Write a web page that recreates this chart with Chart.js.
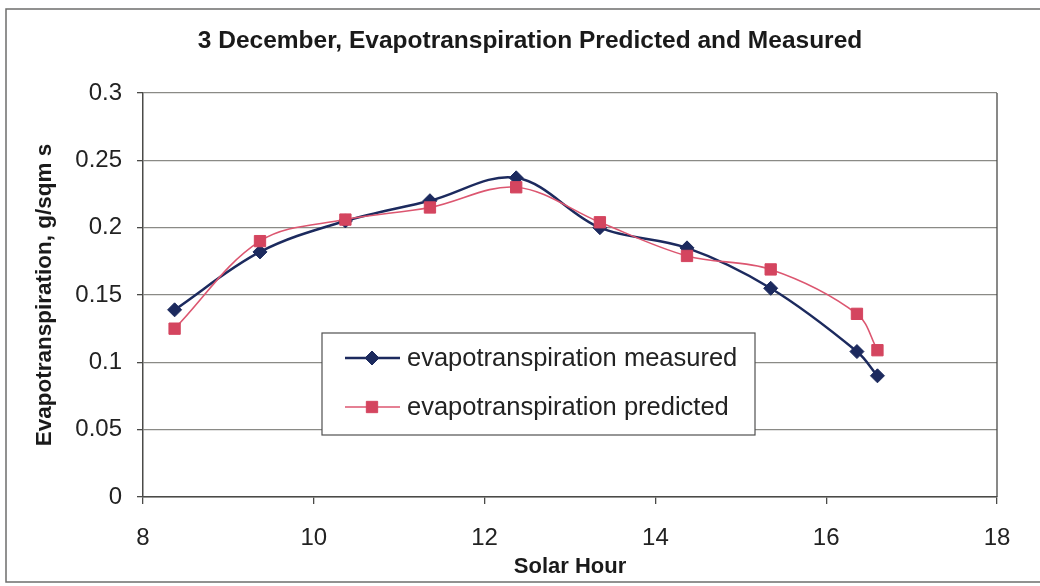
<!DOCTYPE html>
<html>
<head>
<meta charset="utf-8">
<script src="https://cdn.jsdelivr.net/npm/chart.js@4.4.1/dist/chart.umd.min.js"></script>
<style>
  html, body { margin: 0; padding: 0; background: #ffffff; }
  #wrap { width: 1040px; height: 586px; }
</style>
</head>
<body>
<div id="wrap"><canvas id="c" width="1040" height="586"></canvas></div>
<script>
// Solar hour of each reading and the two evapotranspiration series (g/sqm s)
const solarHour   = [8.37, 9.37, 10.37, 11.36, 12.37, 13.35, 14.37, 15.35, 16.36, 16.6];
const etMeasured  = [0.139, 0.182, 0.205, 0.220, 0.237, 0.200, 0.185, 0.155, 0.108, 0.090];
const etPredicted = [0.125, 0.190, 0.206, 0.215, 0.230, 0.204, 0.179, 0.169, 0.136, 0.109];

const seriesNames = ['evapotranspiration measured', 'evapotranspiration predicted'];

// Axis ticks and their labels
const xTickValues = [8, 10, 12, 14, 16, 18];
const xTickLabels = ['8', '10', '12', '14', '16', '18'];
const yTickValues = [0, 0.05, 0.1, 0.15, 0.2, 0.25, 0.3];
const yTickLabels = ['0', '0.05', '0.1', '0.15', '0.2', '0.25', '0.3'];

const chartTitle = '3 December, Evapotranspiration Predicted and Measured';
const xTitle = 'Solar Hour';
const yTitle = 'Evapotranspiration, g/sqm s';

const FONT = '"Liberation Sans", Arial, sans-serif';
const NAVY = '#1c2a5e';
const PINK_LINE = '#dc5670';
const PINK_MARK = '#d4455f';
const GRID = '#8a8a86';
const AXIS = '#4a4a48';

const toPoints = (xs, ys) => xs.map((x, i) => ({ x: x, y: ys[i] }));

// Outer frame, heading, plot-area right edge and the boxed legend
const decorPlugin = {
  id: 'decor',
  beforeDraw(chart) {
    const ctx = chart.ctx;
    ctx.save();
    ctx.fillStyle = '#ffffff';
    ctx.fillRect(0, 0, chart.width, chart.height);
    ctx.strokeStyle = '#6e6e6c';
    ctx.lineWidth = 1.5;
    ctx.beginPath();
    ctx.moveTo(1045, 9);
    ctx.lineTo(6, 9);
    ctx.lineTo(6, 582);
    ctx.lineTo(1045, 582);
    ctx.stroke();

    ctx.fillStyle = '#1a1a1a';
    ctx.font = 'bold 24.5px ' + FONT;
    ctx.textAlign = 'center';
    ctx.textBaseline = 'middle';
    ctx.fillText(chartTitle, 530, 41);
    ctx.restore();
  },
  beforeDatasetsDraw(chart) {
    const { ctx, chartArea: a } = chart;
    ctx.save();
    ctx.strokeStyle = AXIS;
    ctx.lineWidth = 1.3;
    ctx.beginPath();
    ctx.moveTo(a.right, a.top);
    ctx.lineTo(a.right, a.bottom);
    ctx.stroke();
    ctx.restore();
  },
  afterDraw(chart) {
    const ctx = chart.ctx;
    const box = { x: 322, y: 333, w: 433, h: 102 };
    ctx.save();
    ctx.fillStyle = '#ffffff';
    ctx.fillRect(box.x, box.y, box.w, box.h);
    ctx.strokeStyle = '#505050';
    ctx.lineWidth = 1.2;
    ctx.strokeRect(box.x, box.y, box.w, box.h);
    const rows = [358, 407];
    chart.data.datasets.forEach((ds, i) => {
      const cy = rows[i];
      ctx.strokeStyle = ds.borderColor;
      ctx.lineWidth = ds.borderWidth;
      ctx.beginPath();
      ctx.moveTo(345, cy);
      ctx.lineTo(400, cy);
      ctx.stroke();
      ctx.fillStyle = ds.pointBackgroundColor;
      ctx.strokeStyle = ds.pointBorderColor;
      ctx.lineWidth = 1;
      Chart.helpers.drawPoint(ctx, { pointStyle: ds.pointStyle, radius: ds.pointRadius, rotation: 0, borderWidth: 1 }, 372, cy);
      ctx.fillStyle = '#222222';
      ctx.font = '25.5px ' + FONT;
      ctx.textAlign = 'left';
      ctx.textBaseline = 'middle';
      ctx.fillText(ds.label, 407, cy + 1);
    });
    ctx.restore();
  }
};

new Chart(document.getElementById('c'), {
  type: 'line',
  data: {
    datasets: [
      {
        label: seriesNames[0],
        data: toPoints(solarHour, etMeasured),
        borderColor: NAVY,
        borderWidth: 2.5,
        pointStyle: 'rectRot',
        pointRadius: 7,
        pointBackgroundColor: NAVY,
        pointBorderColor: NAVY,
        pointBorderWidth: 1,
        tension: 0.35,
        order: 1
      },
      {
        label: seriesNames[1],
        data: toPoints(solarHour, etPredicted),
        borderColor: PINK_LINE,
        borderWidth: 1.6,
        pointStyle: 'rect',
        pointRadius: 8,
        pointBackgroundColor: PINK_MARK,
        pointBorderColor: PINK_MARK,
        pointBorderWidth: 1,
        tension: 0.35,
        order: 0
      }
    ]
  },
  options: {
    responsive: false,
    animation: false,
    layout: { padding: { left: 0, right: 43, top: 93, bottom: 0 } },
    plugins: {
      legend: { display: false },
      tooltip: { enabled: false },
      title: { display: false }
    },
    scales: {
      x: {
        type: 'linear',
        min: 8,
        max: 18,
        afterBuildTicks: s => { s.ticks = xTickValues.map(v => ({ value: v })); },
        afterFit: s => { s.height = 89; },
        ticks: {
          callback: (v, i) => xTickLabels[i],
          color: '#222222',
          font: { family: FONT, size: 24 },
          padding: 20,
          maxRotation: 0
        },
        grid: { drawOnChartArea: false, tickLength: 7, color: AXIS, lineWidth: 1.3 },
        border: { color: AXIS, width: 1.5 },
        title: {
          display: true,
          text: xTitle,
          color: '#1a1a1a',
          font: { family: FONT, size: 22, weight: 'bold', lineHeight: 1.2 },
          padding: { top: 0, bottom: 6 }
        }
      },
      y: {
        type: 'linear',
        min: 0,
        max: 0.3,
        afterBuildTicks: s => { s.ticks = yTickValues.map(v => ({ value: v })); },
        afterFit: s => { s.width = 143; },
        ticks: {
          callback: (v, i) => yTickLabels[i],
          color: '#222222',
          font: { family: FONT, size: 24 },
          padding: 15
        },
        grid: { color: GRID, lineWidth: 1.3, tickLength: 6, tickColor: AXIS },
        border: { color: AXIS, width: 1.5 },
        title: {
          display: true,
          text: yTitle,
          color: '#1a1a1a',
          font: { family: FONT, size: 22.5, weight: 'bold', lineHeight: 1.2 },
          padding: { top: 31.5, bottom: 0 }
        }
      }
    }
  },
  plugins: [decorPlugin]
});
</script>
</body>
</html>
